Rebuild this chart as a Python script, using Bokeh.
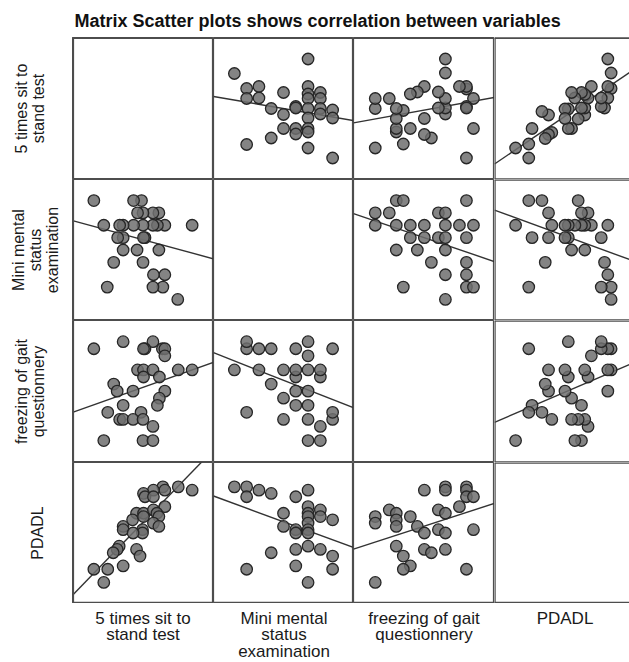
import numpy as np
from bokeh.plotting import figure
from bokeh.layouts import row, column
from bokeh.models import Range1d, Span, Spacer
from bokeh.core.properties import value
from bokeh.embed import file_html
from bokeh.resources import INLINE

title_text = "Matrix Scatter plots shows correlation between variables"
var_labels = ["5 times sit to\nstand test", "Mini mental\nstatus\nexamination",
              "freezing of gait\nquestionnery", "PDADL"]

# Pair A: Mini mental status examination vs 5 times sit to stand test
a_mmse = [22, 23, 23, 23, 24, 24, 25, 25, 26, 26, 26, 27, 27, 27, 27,
          28, 28, 28, 28, 28, 28, 28, 28, 28, 29, 29, 29, 29, 30, 30, 30]
a_sts = [27.0, 24.0, 22.0, 12.8, 24.4, 22.1, 20.0, 14.1, 23.2, 18.8, 16.0, 20.4, 20.1, 16.0, 14.9,
         29.9, 24.4, 22.9, 22.0, 20.0, 18.1, 16.0, 15.3, 12.1, 23.2, 22.0, 20.0, 18.9, 19.7, 18.1, 10.1]

# Pair B: freezing of gait questionnery vs 5 times sit to stand test
b_fog = [20, 20, 19, 19, 19, 19, 19, 18, 16, 16, 16, 16, 16, 15, 15, 14,
         13, 13, 13, 12, 11, 11, 10, 10, 9, 9, 9, 9, 8, 6, 6, 6]
b_sts = [16.0, 22.0, 10.1, 20.4, 20.1, 23.9, 24.4, 24.4, 18.9, 20.1, 22.0, 27.1, 29.9, 20.1, 23.3, 14.1,
         14.8, 18.0, 24.4, 23.3, 16.0, 22.9, 12.9, 19.6, 15.3, 16.0, 18.0, 20.0, 22.0, 12.1, 20.0, 22.0]

# Pair C: 5 times sit to stand test vs PDADL
c_sts = [27.1, 29.9, 24.0, 24.4, 22.1, 20.1, 20.4, 22.1, 24.4, 18.7, 20.1, 22.1, 22.8, 23.2, 17.9, 20.1,
         22.1, 23.2, 16.0, 16.0, 19.9, 19.9, 18.0, 15.2, 14.8, 14.0, 18.7, 19.4, 16.0, 10.1, 12.9, 12.1]
c_pdadl = [40, 39, 40, 39, 39, 38, 37, 37, 34, 32, 32, 33, 32, 31, 30, 31,
           29, 28, 28, 27, 27, 26, 26, 22, 21, 20, 21, 19, 16, 15, 15, 11]

# Pair D: Mini mental status examination vs freezing of gait questionnery
d_mmse = [30, 30, 30, 29, 29, 29, 29, 28, 28, 28, 28, 28, 28, 28, 27,
          27, 27, 27, 27, 26, 26, 26, 25, 25, 24, 24, 23, 23, 23, 22]
d_fog = [9, 10, 19, 6, 8, 15, 16, 6, 9, 11, 13, 16, 18, 20, 11,
         13, 15, 16, 19, 9, 12, 16, 14, 19, 16, 19, 10, 19, 20, 16]

# Pair E: Mini mental status examination vs PDADL
e_mmse = [22, 23, 23, 23, 24, 25, 25, 26, 26, 27, 27, 27, 27, 27, 28,
          28, 28, 28, 28, 28, 28, 28, 28, 29, 29, 29, 30, 30, 30]
e_pdadl = [40, 40, 37, 15, 39, 38, 20, 32, 28, 37, 27, 26, 21, 16, 39,
           34, 32, 31, 29, 27, 26, 22, 11, 33, 31, 21, 30, 19, 15]

# Pair F: freezing of gait questionnery vs PDADL
f_fog = [13, 16, 16, 19, 19, 19, 20, 8, 9, 6, 6, 9, 9, 11, 12, 15,
         16, 18, 13, 15, 16, 20, 9, 10, 11, 10, 13, 14, 16, 19, 6]
f_pdadl = [39, 40, 39, 40, 39, 37, 37, 33, 32, 31, 29, 30, 28, 31, 28, 33,
           32, 34, 26, 27, 26, 27, 22, 19, 16, 15, 21, 20, 21, 15, 11]

pairs = {
    (0, 1): (a_sts, a_mmse),
    (0, 2): (b_sts, b_fog),
    (0, 3): (c_sts, c_pdadl),
    (1, 2): (d_mmse, d_fog),
    (1, 3): (e_mmse, e_pdadl),
    (2, 3): (f_fog, f_pdadl),
}

# ---- layout / style ----
var_range = [(5.8, 34.2), (20.3, 31.7), (2.9, 23.0), (4.6, 47.4)]
col_w = [141, 140, 141, 135]
row_h = [142, 141, 142, 141]
NOMINAL = 141
LEFT_W = 72
TITLE_H = 37
BOTTOM_H = 59
TOTAL_W = LEFT_W + sum(col_w)
BORDER = "#4d4d4d"
LABEL_FONT = value("Liberation Sans")
left_label_x = [29.5, 35, 29.5, 37]


def base_fig(w, h, xr, yr, outline=True):
    p = figure(width=w, height=h, x_range=Range1d(*xr), y_range=Range1d(*yr),
               toolbar_location=None, output_backend="svg", min_border=0,
               x_axis_location=None, y_axis_location=None,
               background_fill_color="white", border_fill_color="white",
               outline_line_color=BORDER if outline else None,
               outline_line_width=1.2)
    p.grid.visible = False
    return p


def cell(r, c):
    w, h = col_w[c], row_h[r]
    x0, x1 = var_range[c]
    full_x1 = x1
    if c == 3:
        x1 = x0 + (x1 - x0) * w / NOMINAL
    y0, y1 = var_range[r]
    last = (c == 3)
    p = base_fig(w, h, (x0, x1), (y0, y1), outline=not last)
    edges = []
    if last:
        edges += [(y0, "width", 2.4), (y1, "width", 2.4), (x0, "height", 2.4)]
    if c == 0:
        edges.append((x0, "height", 3.2))
    if r == 0:
        edges.append((y1, "width", 3.2))
    if r == 3:
        edges.append((y0, "width", 3.6))
    for loc, dim, lw in edges:
        p.add_layout(Span(location=loc, dimension=dim, line_color=BORDER, line_width=lw))
    if r == c:
        return p
    if (c, r) in pairs:
        xs, ys = pairs[(c, r)]
    else:
        ys, xs = pairs[(r, c)]
    xs = np.asarray(xs, float)
    ys = np.asarray(ys, float)
    slope, icpt = np.polyfit(xs, ys, 1)
    lx = np.array([x0, full_x1])
    p.line(lx, slope * lx + icpt, line_color="#333333", line_width=1.4)
    p.scatter(xs, ys, size=11.5, fill_color="#6e6e6e", fill_alpha=0.85,
              line_color="#262626", line_width=1.3)
    return p


# title
tfig = base_fig(TOTAL_W, TITLE_H, (0, TOTAL_W), (TITLE_H, 0), outline=False)
tfig.text(x=[74], y=[20], text=[title_text], text_font=value("Liberation Sans"),
          text_font_style="bold", text_font_size="18px", text_color="#111111",
          text_align="left", text_baseline="middle")

rows = [tfig]
for r in range(4):
    lab = base_fig(LEFT_W, row_h[r], (0, LEFT_W), (row_h[r], 0), outline=False)
    lab.text(x=[left_label_x[r]], y=[row_h[r] / 2], text=[var_labels[r]], angle=np.pi / 2,
             text_font=LABEL_FONT, text_font_size="16px", text_color="#1a1a1a",
             text_align="center", text_baseline="middle", text_line_height=1.0)
    rows.append(row([lab] + [cell(r, c) for c in range(4)], spacing=0))

bottom = [Spacer(width=LEFT_W, height=BOTTOM_H)]
for c in range(4):
    b = base_fig(col_w[c], BOTTOM_H, (0, col_w[c]), (BOTTOM_H, 0), outline=False)
    b.text(x=[NOMINAL / 2], y=[5], text=[var_labels[c]], text_font=LABEL_FONT,
           text_font_size="17px", text_color="#1a1a1a", text_align="center",
           text_baseline="top", text_line_height=0.88)
    bottom.append(b)
rows.append(row(bottom, spacing=0))

layout = column(rows, spacing=0)
open("out.html", "w").write(file_html(layout, INLINE))
